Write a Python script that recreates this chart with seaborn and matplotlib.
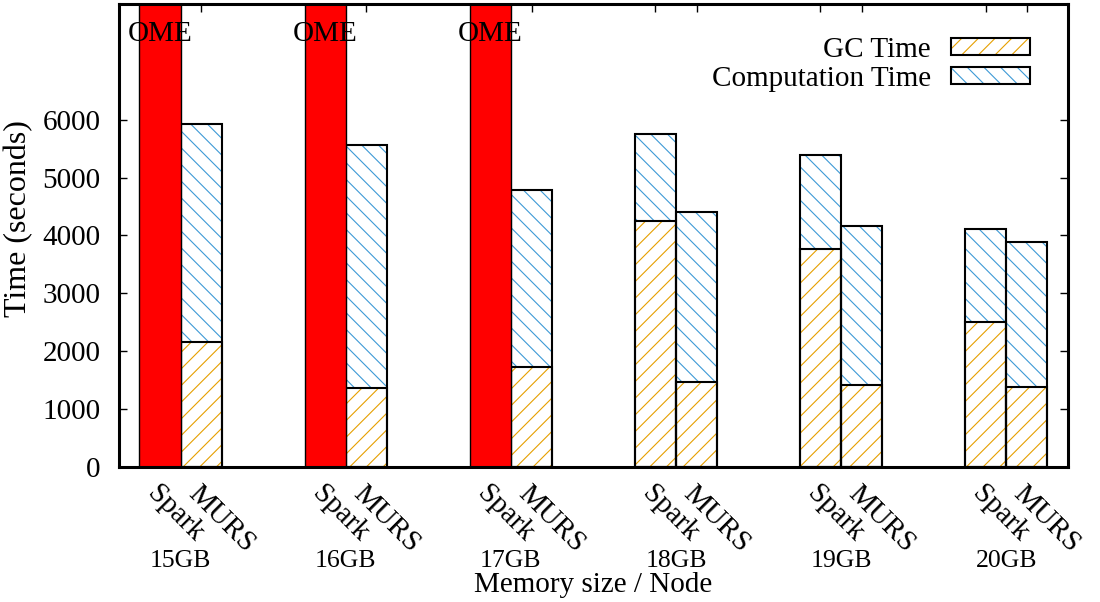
import numpy as np
import pandas as pd
import matplotlib
matplotlib.use("Agg")
import matplotlib.pyplot as plt
from matplotlib.patches import Patch
import seaborn as sns

# values (seconds)
memory = ["15GB", "16GB", "17GB", "18GB", "19GB", "20GB"]
systems = ["Spark", "MURS"]
spark_gc = [np.nan, np.nan, np.nan, 4250, 3760, 2500]
spark_total = [np.nan, np.nan, np.nan, 5750, 5390, 4120]
murs_gc = [2160, 1370, 1730, 1470, 1410, 1390]
murs_total = [5930, 5570, 4780, 4410, 4170, 3880]
spark_ome = [True, True, True, False, False, False]

y_max = 8000
gc_color = "#E69F00"
comp_color = "#3D9AD6"
fs = 21

sns.set_theme(style="ticks")
plt.rcParams["font.family"] = ["Liberation Serif", "DejaVu Serif"]
plt.rcParams["hatch.linewidth"] = 0.8
for k in ["text.color", "axes.labelcolor", "xtick.color", "ytick.color", "axes.edgecolor"]:
    plt.rcParams[k] = "black"

rows = []
for i, m in enumerate(memory):
    rows.append(dict(memory=m, system="Spark", gc=spark_gc[i], total=spark_total[i],
                     ome=y_max if spark_ome[i] else np.nan))
    rows.append(dict(memory=m, system="MURS", gc=murs_gc[i], total=murs_total[i], ome=np.nan))
df = pd.DataFrame(rows)

fig = plt.figure(figsize=(11, 6.02), dpi=100)
ax = fig.add_axes([0.108, 0.2243, 0.863, 0.7691])

white = {"Spark": "white", "MURS": "white"}


def layer(col, palette=white):
    n0 = len(ax.patches)
    sns.barplot(data=df, x="memory", y=col, hue="system", order=memory, hue_order=systems,
                palette=palette, saturation=1, width=0.5, errorbar=None, legend=False, ax=ax)
    return ax.patches[n0:]


# computation part (full stack, covered below by gc part)
for p in layer("total"):
    p.set_hatch("\\\\")
    p.set_edgecolor(comp_color)
    p.set_linewidth(0)

# gc part
for p in layer("gc"):
    p.set_hatch("//")
    p.set_edgecolor(gc_color)
    p.set_linewidth(0)

# outlines
for col in ["total", "gc"]:
    for p in layer(col):
        p.set_facecolor("none")
        p.set_edgecolor("black")
        p.set_linewidth(1.5)

# out of memory bars
for p in layer("ome", {"Spark": "red", "MURS": "red"}):
    p.set_facecolor("red")
    p.set_edgecolor("black")
    p.set_linewidth(1.0)
    if np.isfinite(p.get_height()) and p.get_height() > 0:
        ax.text(p.get_x() + p.get_width() / 2, 7480, "OME", ha="center", va="center",
                fontsize=fs)

ax.set_xlim(-0.375, len(memory) - 1 + 0.375)
ax.set_ylim(0, y_max)
ax.set_yticks(range(0, 7000, 1000))

# one tick per bar, labelled with the system
pos = []
labs = []
for i in range(len(memory)):
    pos += [i - 0.125, i + 0.125]
    labs += systems
ax.set_xticks(pos)
ax.set_xticklabels(labs)
plt.setp(ax.get_xticklabels(), rotation=-45, ha="left", va="top", rotation_mode="anchor")

ax.tick_params(axis="x", direction="in", bottom=False, top=True, length=6, width=1,
               labelsize=fs, pad=10)
ax.tick_params(axis="y", direction="in", left=True, right=True, length=6, width=1,
               labelsize=fs, pad=13)
for s in ax.spines.values():
    s.set_linewidth(2.2)

trans = matplotlib.transforms.blended_transform_factory(ax.transData, ax.transAxes)
for i, m in enumerate(memory):
    ax.text(i, -0.203, m, transform=trans, ha="center", va="center", fontsize=18.5)

ax.set_xlabel("Memory size / Node", fontsize=fs)
ax.xaxis.set_label_coords(0.5, -0.255)
ax.xaxis.label.set_va("center")
ax.set_ylabel("Time (seconds)", fontsize=23)
ax.yaxis.set_label_coords(-0.106, 0.537)
ax.yaxis.label.set_va("center")

handles = [
    (Patch(facecolor="white", hatch="//", edgecolor=gc_color, linewidth=0),
     Patch(facecolor="none", edgecolor="black", linewidth=1.5)),
    (Patch(facecolor="white", hatch="\\\\", edgecolor=comp_color, linewidth=0),
     Patch(facecolor="none", edgecolor="black", linewidth=1.5)),
]
ax.legend(handles, ["GC Time", "Computation Time"], loc="upper right",
          bbox_to_anchor=(0.96, 0.929), markerfirst=False, frameon=False, fontsize=fs,
          handlelength=2.7, handleheight=0.5, handletextpad=0.7, labelspacing=0.1,
          borderaxespad=0, borderpad=0)

fig.savefig("out.png", dpi=100)
